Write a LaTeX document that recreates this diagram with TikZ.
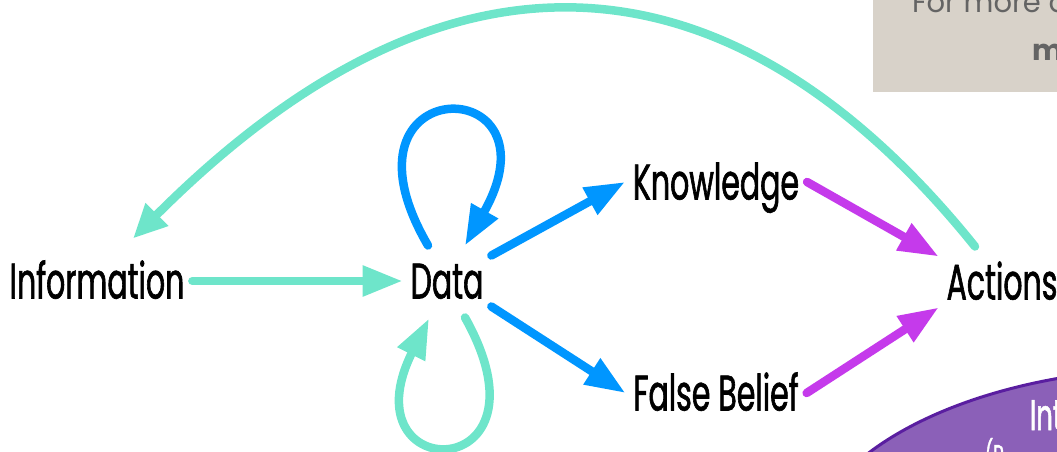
\documentclass[tikz,border=0pt]{standalone}
\usepackage{fontspec}
\usepackage{xcolor}
\usetikzlibrary{arrows.meta}
\newfontfamily\labelfont{Poppins}[FakeStretch=0.6, FakeBold=1.2]
\newfontfamily\notefont{Poppins}
\definecolor{flowteal}{RGB}{110,229,202}
\definecolor{flowblue}{RGB}{0,150,255}
\definecolor{flowpink}{RGB}{197,58,235}
\definecolor{notegray}{RGB}{216,210,201}
\definecolor{notetext}{RGB}{100,100,100}
\definecolor{blobfill}{RGB}{139,96,184}
\definecolor{blobline}{RGB}{90,30,160}
\tikzset{
    term/.style={font=\labelfont\fontsize{50}{50}\selectfont, inner sep=0pt, outer sep=8pt, text height=35pt, text depth=0pt},
    flow/.style={line width=8.5pt, line cap=round, -{Triangle[length=40pt, width=29pt]}},
    note/.style={font=\notefont\fontsize{29}{29}\selectfont, text=notetext, inner sep=0pt, outer sep=0pt, anchor=base west}
}

\begin{document}
\begin{tikzpicture}[x=1pt, y=-1pt]
    \useasboundingbox (0,0) rectangle (1057,452);
    % side panels, cut by the frame
    \fill[notegray] (873,0) rectangle (1100,92);
    \node[note] (more) at (912,13) {For more d};
    \node[note, font=\notefont\bfseries\fontsize{29}{29}\selectfont] (link) at (1032,61) {m};
    \filldraw[fill=blobfill, draw=blobline, line width=3pt] (1180,560) ellipse [x radius=375, y radius=192];
    \node[note, text=white, font=\labelfont\fontsize{43}{43}\selectfont] (blob) at (1030,430) {Int};
    \node[note, text=white, font=\labelfont\fontsize{30}{30}\selectfont] (blobsub) at (985,466) {(P};

    \node[term] (info) at (97,281) {Information};
    \node[term] (data) at (447,281) {Data};
    \node[term] (know) at (716,182) {Knowledge};
    \node[term] (fb) at (716,393) {False Belief};
    \node[term] (act) at (1002,282) {Actions};

    \draw[flow, flowteal] (info) -- (data);
    \draw[flow, flowblue] (data.north east) -- (know.west);
    \draw[flow, flowblue] (data.south east) -- (fb.west);
    \draw[flow, flowpink] (know.east) -- (act.north west);
    \draw[flow, flowpink] (fb.east) -- (act.south west);
    % loops on data
    \draw[flow, flowblue] ([shift={(-19,-10)}]data.north) .. controls (325,69) and (565,69) .. ([shift={(18,-10)}]data.north);
    \draw[flow, flowteal] ([shift={(18,11)}]data.south) .. controls (560,487) and (345,487) .. ([shift={(-18,12)}]data.south);
    % back to information
    \draw[flow, flowteal, -{Triangle[length=34pt, width=30pt]}] ([shift={(-27,-10)}]act.north) .. controls (754,-28) and (473,-102) .. ([shift={(36,-17)}]info.north);
\end{tikzpicture}
\end{document}
